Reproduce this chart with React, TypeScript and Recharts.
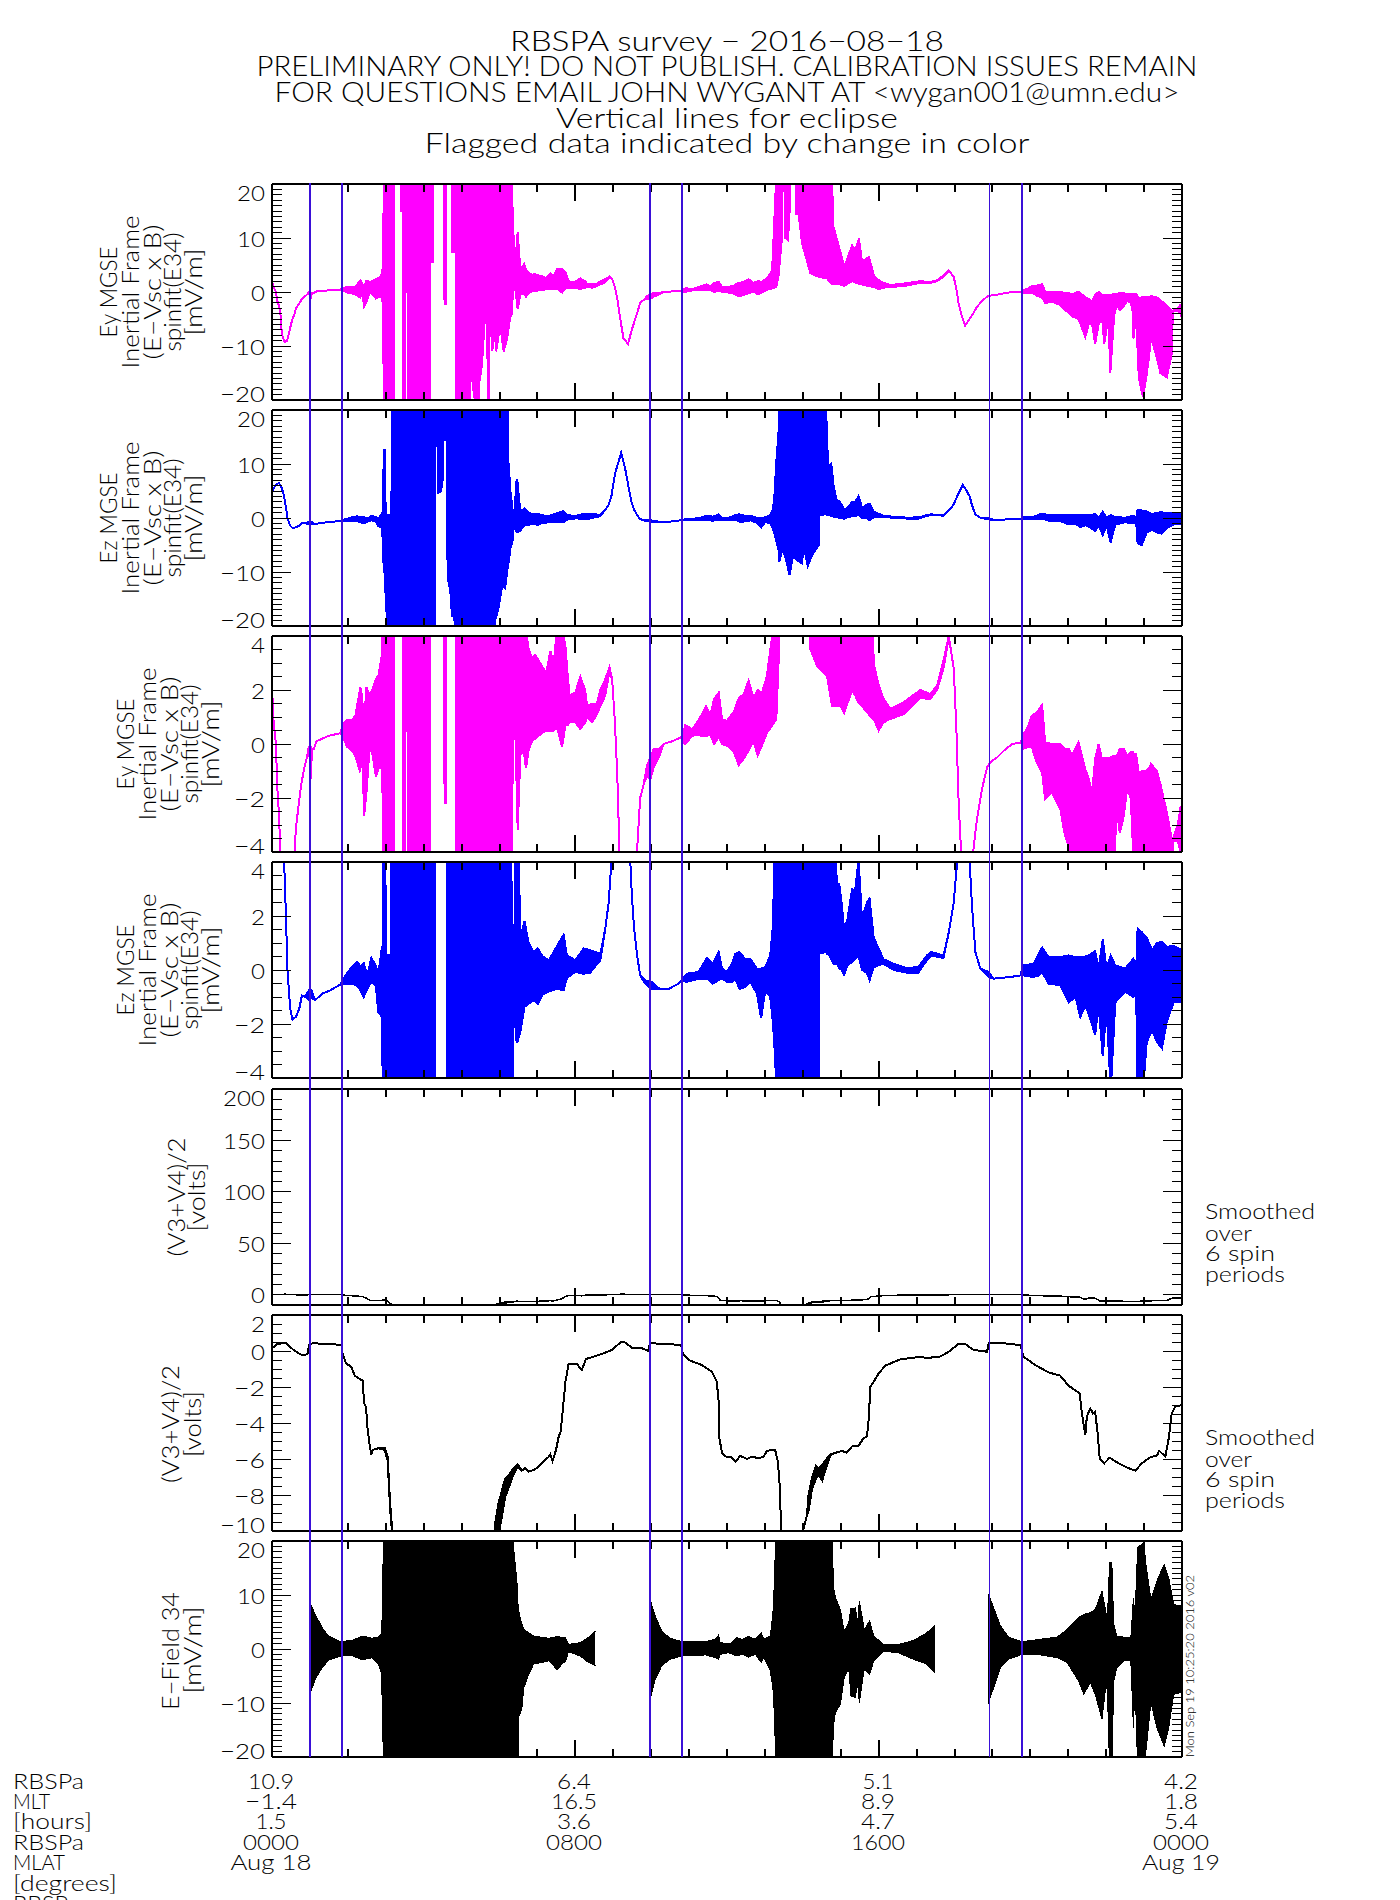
import React from "react";
import {
  Area,
  ComposedChart,
  ReferenceLine,
  XAxis,
  YAxis,
} from "recharts";

type Row = [number, number | null, number | null];

// [hour, lowest, highest] (the +-20 and +-4 views show the same data)
const eyBand: Row[] = [
  [0, 2.1, 2.1], [0.04, 0.9, 0.9], [0.11, -0.1, -0.1], [0.13, -1.4, -1.4], [0.18, -2.5, -2.5], [0.22, -3.9, -3.9],
  [0.26, -7.7, -7.7], [0.33, -9.3, -9.3], [0.4, -9, -9], [0.53, -5.2, -5.2], [0.6, -3.9, -3.9], [0.63, -3.1, -3.1],
  [0.7, -2.3, -2.3], [0.77, -1.5, -1.5], [0.85, -0.9, -0.9], [0.92, -0.5, -0.5], [0.97, -0.1, -0.1], [1.03, -1.3, -0.1],
  [1.05, -0.2, -0.2], [1.1, -0.2, -0.2], [1.17, 0.1, 0.1], [1.49, 0.3, 0.3], [1.8, 0.4, 0.4], [1.86, 0.3, 0.7],
  [1.98, -0.1, 0.9], [2.11, -0.25, 0.9], [2.2, -0.45, 1.05], [2.33, -1.05, 2.1], [2.37, 0.3, 1.8], [2.43, -2.65, 0.8],
  [2.49, -1.85, 2.1], [2.57, -0.2, 1.85], [2.64, -0.3, 2], [2.74, -1.2, 2.4], [2.81, -0.9, 2.55], [2.9, -0.9, 3.3],
  [2.93, -2.8, 5.2], [2.95, -22, 22], [3.21, -22, 22], [3.22, 22, 22], [3.39, 22, 22], [3.4, 15, 22], [3.45, 15, 22],
  [3.46, -22, 22], [3.51, -22, 22], [3.52, 14, 22], [3.57, 14, 22], [3.58, -22, 22], [4.09, -22, 22], [4.1, 3, 22],
  [4.12, 3, 22], [4.13, -22, 22], [4.17, -22, 22], [4.18, 5.5, 22], [4.24, 5.5, 22], [4.25, 22, 22], [4.54, 22, 22],
  [4.55, -2.2, 22], [4.59, -2.2, 22], [4.6, 22, 22], [4.74, 22, 22], [4.75, 7.4, 22], [4.79, 7.4, 22], [4.8, 22, 22],
  [4.84, 22, 22], [4.85, -22, 22], [5.09, -22, 22], [5.12, -14.5, 22], [5.15, -22, 22], [5.2, -22, 22], [5.24, -12.6, 22],
  [5.3, -17.6, 22], [5.39, -22, 22], [5.45, -22, 22], [5.47, -16.7, 22], [5.54, -13.3, 22], [5.61, -5.2, 22], [5.67, -6, 22],
  [5.7, -20, 22], [5.72, -20, 22], [5.75, 1, 22], [5.8, 1, 22], [5.81, -11, 22], [5.87, -6.5, 22], [5.91, -11, 22],
  [6.02, -6.2, 22], [6.11, -11, 22], [6.2, -8.6, 22], [6.28, -4.9, 22], [6.32, -4.1, 22], [6.36, 0.4, 11.4], [6.42, 0.3, 5.9],
  [6.48, -3.2, 11.1], [6.55, -0.4, 4], [6.59, -0.3, 4.5], [6.65, -0.4, 5.2], [6.7, -0.9, 4.2], [6.77, -0.2, 3.5], [6.86, 0.1, 3.2],
  [6.94, 0.2, 3.3], [7.03, 0.3, 3.1], [7.12, 0.4, 2.9], [7.23, 0.5, 2.6], [7.34, 0.5, 3.45], [7.43, 0.5, 3], [7.52, 0.6, 4.3],
  [7.65, -0.1, 4.3], [7.74, 0.7, 3.6], [7.8, 0.7, 2.5], [7.85, 0.8, 1.8], [8, 0.8, 1.9], [8.13, 0.55, 2.5], [8.26, 0.8, 2],
  [8.31, 1, 1.4], [8.44, 0.8, 1.5], [8.57, 1.1, 1.5], [8.66, 1.4, 2], [8.79, 1.8, 2.4], [8.9, 2.7, 2.85], [8.97, 2.4, 2.4],
  [9.04, 0.9, 0.9], [9.08, -0.3, -0.3], [9.12, -1.7, -1.7], [9.16, -3.9, -3.9], [9.27, -8.6, -8.6], [9.39, -9.6, -9.6],
  [9.49, -7, -7], [9.63, -3.9, -3.9], [9.71, -2, -2], [9.8, -1.5, -1.5], [9.89, -1.2, -0.8], [9.98, -1.3, -0.5], [10.06, -0.9, -0.2],
  [10.2, -0.5, -0.2], [10.33, 0, 0], [10.55, 0.1, 0.1], [10.79, 0.25, 0.25], [10.85, 0.05, 0.45], [10.9, 0, 0.7], [11.08, 0.3, 0.55],
  [11.21, 0.35, 0.8], [11.34, 0.3, 1.1], [11.45, 0.3, 1.4], [11.56, 0.35, 1.05], [11.66, 0, 1.67], [11.78, 0.25, 1.9], [11.87, 0, 0.9],
  [12, -0.06, 0.86], [12.18, -0.3, 1.2], [12.31, -0.78, 1.7], [12.44, -0.55, 1.85], [12.57, -0.25, 2.35], [12.7, 0.1, 1.7],
  [12.81, -0.43, 2], [12.92, -0.06, 1.9], [13.05, 0.4, 2.5], [13.19, 0.68, 4], [13.29, 0.9, 20], [13.3, 0.9, 22], [13.36, 3, 22],
  [13.41, 7, 22], [13.45, 10, 22], [13.47, 22, 22], [13.53, 22, 22], [13.54, 10, 22], [13.6, 9.6, 22], [13.64, 12.5, 22],
  [13.68, 22, 22], [13.81, 22, 22], [13.82, 14.5, 22], [13.89, 14.5, 22], [13.92, 12.6, 22], [13.98, 9, 22], [14.2, 3.5, 22],
  [14.37, 2.9, 22], [14.51, 2.7, 22], [14.64, 2.5, 22], [14.77, 1.4, 22], [14.8, 1.4, 12.3], [14.99, 1.4, 7.4], [15.09, 1.15, 4.6],
  [15.3, 2, 8.6], [15.38, 1.8, 7.7], [15.48, 1.5, 9.9], [15.56, 1.4, 5.6], [15.74, 1.1, 6.5], [15.84, 0.93, 4], [15.88, 0.9, 2.9],
  [16, 0.5, 2.2], [16.13, 0.8, 1.67], [16.31, 0.93, 1.3], [16.66, 1.1, 1.55], [17.1, 1.7, 2], [17.36, 1.67, 1.85], [17.54, 2, 2.16],
  [17.71, 2.8, 3.1], [17.85, 3.95, 4], [17.98, 2.8, 2.8], [18.05, 0.55, 0.55], [18.11, -2.16, -2.16], [18.17, -3.9, -3.9],
  [18.22, -5, -5], [18.28, -6.2, -6.2], [18.37, -5.3, -5.3], [18.5, -3.9, -3.9], [18.59, -2.8, -2.8], [18.72, -1.7, -1.7],
  [18.86, -0.86, -0.86], [18.94, -0.68, -0.68], [19.12, -0.5, -0.5], [19.3, -0.25, -0.25], [19.52, 0, 0], [19.75, 0.06, 0.06],
  [19.81, -0.18, 0.37], [19.91, -0.12, 0.55], [20.04, -0.12, 1.05], [20.17, -0.68, 1.17], [20.31, -1.05, 1.45], [20.39, -2.04, 0.06],
  [20.57, -1.8, 0], [20.79, -2.4, 0], [20.9, -3.3, -0.18], [21.01, -3.8, -0.18], [21.1, -4.5, -0.43], [21.27, -5, 0.06],
  [21.45, -8.3, -0.93], [21.54, -6, -1.3], [21.63, -6, -1.8], [21.71, -9.6, -0.55], [21.8, -6, 0], [21.89, -4.6, -0.55],
  [21.95, -9.6, -0.5], [22.06, -4.6, -0.5], [22.11, -15, -0.5], [22.21, -4.4, -0.43], [22.28, -2.4, -0.43], [22.36, -3.3, -0.18],
  [22.46, -2.7, -0.18], [22.55, -1.7, -0.43], [22.65, -2, -0.3], [22.71, -4, -0.3], [22.72, -8.6, -0.37], [22.79, -4.2, -0.37],
  [22.86, -15.8, -1.05], [22.97, -19.5, -1], [23.06, -15.8, -1], [23.13, -12, -0.9], [23.18, -8.3, -0.74], [23.34, -12.3, -1],
  [23.43, -15, -1.48], [23.6, -15.8, -2.53], [23.73, -11.4, -3.5], [23.76, -3.6, -3.5], [23.89, -3.6, -3], [23.96, -4, -2.35], [24, -5, -2.35],
];

// same idea for Ez
const ezBand: Row[] = [
  [0, 4.9, 4.9], [0.09, 6.1, 6.1], [0.18, 6.5, 6.5], [0.26, 5.5, 5.5], [0.32, 4, 4], [0.37, 1.9, 1.9], [0.41, -0.07, -0.07],
  [0.48, -1.43, -1.43], [0.54, -1.83, -1.83], [0.63, -1.74, -1.74], [0.72, -1.43, -1.43], [0.79, -0.94, -0.94], [0.88, -1, -1],
  [0.97, -1.1, -0.75], [1.04, -1.05, -0.75], [1.14, -1.12, -1.12], [1.32, -0.88, -0.88], [1.54, -0.75, -0.75], [1.8, -0.54, -0.54],
  [1.89, -0.5, -0.3], [2.07, -0.5, 0.05], [2.24, -0.57, 0.3], [2.33, -0.75, 0.15], [2.42, -1, 0.24], [2.51, -0.7, -0.2],
  [2.62, -0.44, 0.44], [2.74, -0.57, 0.17], [2.8, -1.55, -0.2], [2.9, -1.74, 0.85], [2.92, -4.2, 0.85], [2.95, -10, 12.6],
  [2.97, -10, 12.6], [3, -15, 0.54], [3.06, -22, 0.54], [3.15, -22, 0.6], [3.16, -22, 22], [3.32, -22, 22], [3.33, 12.6, 22],
  [3.36, 12.6, 22], [3.37, -22, 22], [3.83, -22, 22], [3.84, -22, 12], [3.86, -22, 12], [3.87, -22, 22], [4.14, -22, 22],
  [4.15, -14.6, 22], [4.2, -14.6, 22], [4.21, -22, 22], [4.3, -22, 22], [4.31, 22, 22], [4.36, 22, 22], [4.37, 4.6, 22],
  [4.46, 4.9, 22], [4.5, 7, 22], [4.51, 22, 22], [4.56, 22, 22], [4.57, 14.4, 22], [4.62, 14.4, 22], [4.63, -10.9, 22],
  [4.7, -13.3, 22], [4.75, -18.3, 22], [4.79, -15, 22], [4.83, -22, 22], [5.78, -22, 22], [5.79, -22, 0.7], [5.82, -22, 0.7],
  [5.83, -22, 22], [5.85, -22, 22], [5.89, -18.9, 22], [5.98, -16.4, 22], [6.07, -12.7, 22], [6.15, -13, 22], [6.21, -9.3, 22],
  [6.22, -9.3, 12], [6.29, -5.6, 4.9], [6.35, -4, 1.3], [6.36, -1.43, 1.3], [6.39, -1.5, 0.7], [6.45, -2.67, 7], [6.47, -2.67, 7],
  [6.55, -2.3, 1.2], [6.66, -1.37, 1.8], [6.77, -1.25, 1], [6.9, -1.12, 0.67], [7.01, -1.25, 0.8], [7.14, -0.9, 0.5], [7.3, -0.8, 0.36],
  [7.52, -0.7, 0.9], [7.69, -0.75, 1.3], [7.78, -0.3, 0.54], [8, -0.07, 0.36], [8.22, -0.14, 0.8], [8.39, -0.1, 0.73], [8.66, 0.36, 0.6],
  [8.79, 1.53, 1.53], [8.88, 2.5, 2.5], [8.95, 4, 4], [9.05, 8.3, 8.3], [9.21, 12.1, 12.1], [9.32, 8.9, 8.9], [9.45, 4, 4],
  [9.49, 2.77, 2.77], [9.55, 1.53, 1.53], [9.63, 0.54, 0.54], [9.71, -0.2, -0.2], [9.84, -0.5, -0.38], [10.01, -0.7, -0.44],
  [10.24, -0.72, -0.72], [10.46, -0.7, -0.7], [10.68, -0.54, -0.54], [10.81, -0.38, -0.38], [10.94, -0.44, -0.14], [11.25, -0.32, -0.07],
  [11.47, -0.32, 0.44], [11.62, -0.5, 0.24], [11.78, -0.38, 0.67], [11.87, -0.32, 0.05], [12, -0.44, -0.07], [12.13, -0.44, 0.24],
  [12.22, -0.32, 0.6], [12.33, -0.7, 0.67], [12.48, -0.63, 0.4], [12.62, -0.44, 0.4], [12.79, -0.88, 0.05], [12.9, -1.78, 0.05],
  [13.01, -0.75, 0.11], [13.14, -1, 0.54], [13.21, -1.93, 1.65], [13.25, -2.8, 4], [13.3, -4.2, 10.4], [13.36, -5.9, 16], [13.38, -8.1, 22],
  [13.45, -5.9, 22], [13.54, -7.2, 22], [13.65, -10.6, 22], [13.74, -7, 22], [13.85, -7.8, 22], [13.97, -8.4, 22], [14.03, -5.5, 22],
  [14.13, -8.9, 22], [14.24, -6.9, 22], [14.42, -5, 22], [14.43, 0.6, 22], [14.61, 0.67, 22], [14.64, 0.6, 13.8], [14.68, 0.6, 9.5],
  [14.75, 0.4, 10.1], [14.81, 0.23, 6.1], [14.87, 0.23, 4], [14.9, 0.23, 3.2], [14.96, 0.05, 3.2], [15.03, 0, 2.4], [15.09, -0.17, 1.47],
  [15.18, 0.17, 1.9], [15.3, 0.3, 3], [15.38, 0.4, 2.95], [15.47, 0.54, 4.1], [15.56, 0, 1.9], [15.69, -0.1, 2.5], [15.76, -0.38, 2.64],
  [15.87, 0.1, 1.2], [16.04, 0.2, 0.67], [16.13, 0.23, 0.4], [16.4, 0, 0.23], [16.75, -0.1, 0.07], [17.05, -0.1, 0.11], [17.27, 0.36, 0.54],
  [17.38, 0.54, 0.67], [17.71, 0.44, 0.54], [17.85, 1.4, 1.4], [17.98, 2.5, 2.5], [18.07, 4, 4], [18.22, 6.1, 6.1], [18.33, 4.9, 4.9],
  [18.4, 4, 4], [18.46, 2.4, 2.4], [18.55, 0.67, 0.67], [18.68, 0.05, 0.05], [18.9, -0.26, -0.07], [19.03, -0.32, -0.32], [19.47, -0.26, -0.26],
  [19.74, -0.2, -0.2], [19.81, -0.2, 0.17], [20.09, -0.26, 0.23], [20.22, -0.2, 0.6], [20.31, -0.07, 0.83], [20.48, -0.5, 0.48],
  [20.79, -0.57, 0.48], [21.01, -1.2, 0.54], [21.19, -1, 0.48], [21.32, -1.74, 0.48], [21.45, -1.3, 0.5], [21.58, -1.8, 0.57],
  [21.71, -2.4, 0.7], [21.8, -1.3, 0.05], [21.91, -3.2, 1.14], [22.01, -1.37, 0.05], [22.12, -4.5, 0.54], [22.24, -1.2, 0.17],
  [22.5, -0.8, 0.05], [22.72, -1, 0.42], [22.79, -0.6, -0.07], [22.83, -4.7, 1.55], [22.94, -5, 1.4], [23.07, -2.67, 1.2],
  [23.21, -2.23, 0.73], [23.34, -2.67, 1], [23.47, -2.9, 1.04], [23.6, -1.9, 0.85], [23.78, -1.2, 0.9], [24, -1.2, 0.73],
];

// spacecraft potential, the line gets thick where it is noisy
const vscBand: Row[] = [
  [0, 0.15, 0.15], [0.13, 0.37, 0.37], [0.35, 0.46, 0.46], [0.57, 0.06, 0.06], [0.75, -0.19, -0.19], [0.88, -0.22, -0.22],
  [0.94, -0.13, -0.13], [0.98, 0.33, 0.33], [1.07, 0.43, 0.43], [1.67, 0.37, 0.37], [1.83, 0.3, 0.3], [1.86, -0.13, -0.13],
  [1.95, -0.69, -0.69], [2.09, -0.87, -0.87], [2.18, -1.37, -1.37], [2.39, -1.65, -1.65], [2.43, -2.9, -2.9], [2.48, -3.1, -3.1],
  [2.52, -4.3, -4.3], [2.57, -5.13, -5.13], [2.62, -5.78, -5.78], [2.65, -5.5, -5.5], [2.81, -5.4, -5.4], [2.97, -5.5, -5.38],
  [3.05, -6.1, -5.85], [3.08, -7.4, -7.1], [3.12, -8.9, -8.6], [3.17, -10.2, -9.9], [3.18, -12, -12], [5.87, -12, -12],
  [5.89, -10.2, -9.5], [5.98, -10.2, -8.4], [6.07, -9.1, -7.7], [6.15, -8.1, -7.07], [6.28, -7.4, -6.8], [6.37, -6.85, -6.5],
  [6.48, -6.43, -6.3], [6.59, -6.65, -6.65], [6.68, -6.5, -6.5], [6.77, -6.7, -6.7], [6.94, -6.57, -6.57], [7.12, -6.24, -6.24],
  [7.3, -5.87, -5.87], [7.34, -5.74, -5.74], [7.4, -6.1, -6.1], [7.49, -5.5, -5.5], [7.56, -4.76, -4.76], [7.61, -4.48, -4.48],
  [7.65, -3.74, -3.74], [7.69, -2.8, -2.8], [7.74, -1.7, -1.7], [7.82, -0.74, -0.74], [8.04, -0.72, -0.72], [8.17, -1.06, -1.06],
  [8.28, -0.44, -0.44], [8.44, -0.35, -0.35], [8.66, -0.19, -0.19], [8.97, 0.06, 0.06], [9.19, 0.48, 0.48], [9.3, 0.48, 0.48],
  [9.49, 0.19, 0.19], [9.76, 0.15, 0.15], [9.92, 0, 0], [9.97, 0.43, 0.43], [10.42, 0.39, 0.39], [10.79, 0.33, 0.33],
  [10.84, -0.19, -0.19], [10.99, -0.5, -0.5], [11.34, -0.78, -0.78], [11.6, -1.15, -1.15], [11.73, -1.7, -1.7], [11.78, -2.8, -2.8],
  [11.8, -4.85, -4.85], [11.87, -5.69, -5.69], [12, -5.9, -5.9], [12.11, -5.87, -5.87], [12.22, -6.15, -6.15], [12.35, -5.83, -5.83],
  [12.53, -6, -6], [12.66, -5.87, -5.87], [12.84, -5.96, -5.96], [12.97, -5.87, -5.87], [13.05, -5.54, -5.54], [13.27, -5.5, -5.5],
  [13.34, -6.15, -6.15], [13.39, -7.44, -7.44], [13.43, -10.04, -10.04], [13.44, -12, -12], [13.97, -12, -12], [14, -10.04, -10.04],
  [14.11, -9.1, -9.1], [14.15, -8.9, -8], [14.24, -7.7, -7.07], [14.35, -7.07, -6.37], [14.42, -6.9, -6.55], [14.51, -7.2, -6.33],
  [14.64, -6.33, -5.96], [14.74, -5.74, -5.74], [14.9, -5.63, -5.63], [15.03, -5.55, -5.55], [15.15, -5.65, -5.65], [15.3, -5.3, -5.3],
  [15.47, -5.26, -5.26], [15.6, -4.85, -4.85], [15.69, -4.76, -4.76], [15.74, -3.74, -3.74], [15.78, -1.98, -1.98], [15.87, -1.7, -1.7],
  [16, -1.24, -1.24], [16.18, -0.81, -0.81], [16.57, -0.46, -0.46], [17.01, -0.35, -0.35], [17.36, -0.37, -0.37], [17.63, -0.3, -0.3],
  [17.85, -0.04, -0.04], [18.11, 0.41, 0.41], [18.28, 0.39, 0.39], [18.5, 0.06, 0.06], [18.86, -0.04, -0.04], [18.9, 0.43, 0.43],
  [19.3, 0.43, 0.43], [19.74, 0.33, 0.33], [19.82, -0.31, -0.31], [20.13, -0.78, -0.78], [20.48, -1.19, -1.19], [20.79, -1.37, -1.37],
  [21.01, -1.93, -1.93], [21.3, -2.35, -2.35], [21.36, -3.46, -3.46], [21.45, -4.67, -4.67], [21.49, -3.65, -3.65], [21.58, -3.19, -3.19],
  [21.65, -3.46, -3.46], [21.71, -3.37, -3.37], [21.77, -4.48, -4.48], [21.83, -5.96, -5.96], [21.95, -6.24, -6.24], [22.09, -5.93, -5.93],
  [22.33, -6.24, -6.24], [22.55, -6.48, -6.48], [22.77, -6.65, -6.65], [22.94, -6.24, -6.24], [23.16, -5.91, -5.91], [23.34, -5.8, -5.8],
  [23.4, -5.54, -5.54], [23.56, -5.87, -5.87], [23.65, -4.85, -4.85], [23.73, -3.46, -3.46], [23.82, -3.09, -3.09], [24, -3, -3],
];

// E-field 34 envelope, nulls are where there is no data
const e34Band: Row[] = [
  [1.03, -7.8, 8.1], [1.14, -5.6, 6.4], [1.32, -3.5, 4], [1.49, -2.1, 2.4], [1.8, -1.3, 1.36], [2.11, -1.25, 1.6], [2.39, -2, 2.4],
  [2.64, -1.6, 2], [2.8, -2.7, 2.2], [2.88, -4.4, 2.7], [2.91, -10.2, 6.4], [2.94, -22, 22], [6.33, -22, 22], [6.37, -22, 18.8],
  [6.46, -22, 12.6], [6.49, -22, 8], [6.5, -12.7, 7.5], [6.55, -11.8, 5.5], [6.59, -11, 4.6], [6.64, -7.2, 3.6], [6.77, -4.7, 3],
  [6.9, -2.8, 2.4], [7.3, -2.2, 2], [7.52, -3.8, 2.3], [7.69, -2.5, 2.1], [7.74, -2.3, 2.1], [7.82, -0.5, 0.86], [8.13, -1.3, 1.17],
  [8.35, -2.5, 2.2], [8.53, -3.1, 3.3], [8.54, null, null], [9.96, null, null], [9.97, -9.3, 9.2], [10.11, -5.6, 6.1], [10.28, -3.1, 3.3],
  [10.5, -1.9, 2], [10.81, -1.3, 1.36], [11.43, -1.1, 1.36], [11.69, -1.6, 1.8], [11.78, -1.9, 2.6], [11.82, -1, 1.2], [12.03, -0.7, 0.9],
  [12.13, -0.9, 1.2], [12.26, -1.3, 2.1], [12.4, -1, 1.8], [12.57, -1.5, 2.3], [12.75, -1, 1.8], [12.9, -2.5, 3], [12.97, -1.6, 1.8],
  [13.14, -4, 2.4], [13.21, -7.2, 6.4], [13.26, -13.3, 13.8], [13.28, -22, 22], [14.77, -22, 22], [14.81, -14, 11.4], [14.86, -11.8, 9.5],
  [14.99, -10.2, 7.3], [15.09, -5.3, 3.3], [15.21, -3.5, 4.9], [15.27, -8.7, 7.5], [15.38, -9, 7.6], [15.45, -6.5, 5], [15.49, -9.9, 8.9],
  [15.62, -3.7, 3.6], [15.76, -4.7, 5.2], [15.87, -2.2, 2.4], [16.13, -0.5, 0.86], [16.48, -0.6, 0.74], [16.92, -1.9, 1.6], [17.27, -2.8, 3],
  [17.49, -4.4, 4.4], [17.5, null, null], [18.88, null, null], [18.89, -10.1, 10.2], [19.03, -7.2, 7.7], [19.21, -3.5, 4.3], [19.43, -1.9, 2.2],
  [19.78, -1, 1.36], [20.26, -1.1, 1.8], [20.7, -1.6, 2.2], [20.97, -2.5, 3.6], [21.27, -5.9, 5.8], [21.41, -8.4, 6.4], [21.58, -6.2, 6.7],
  [21.71, -8.4, 7.3], [21.89, -13, 10.7], [21.98, -7.5, 7.3], [22.03, -6.9, 5.2], [22.09, -22, 16], [22.15, -22, 16], [22.2, -5.9, 4.6],
  [22.28, -3.5, 2.4], [22.46, -2.2, 2.2], [22.65, -2.2, 2.1], [22.72, -14.6, 9.5], [22.76, -5.9, 5.8], [22.83, -22, 18.8], [22.99, -22, 19.7],
  [23.06, -18.3, 15], [23.18, -9.9, 9.2], [23.34, -14.6, 12.6], [23.53, -18, 15.7], [23.65, -14.6, 13.2], [23.78, -8.4, 8.3], [24, -8, 7.7],
];

const hourTicks = Array.from({ length: 25 }, (_, i) => i);
const eclipseHours = [1, 1.85, 9.97, 10.82, 18.92, 19.79];
const eclipseWidths = [2, 2, 2, 2, 1, 2];

const range = (from: number, to: number, step: number) =>
  Array.from({ length: Math.round((to - from) / step) + 1 }, (_, i) => from + i * step);

const titleLines = [
  { text: "RBSPA survey − 2016−08−18", width: 434 },
  { text: "PRELIMINARY ONLY! DO NOT PUBLISH. CALIBRATION ISSUES REMAIN", width: 941 },
  { text: "FOR QUESTIONS EMAIL JOHN WYGANT AT <wygan001@umn.edu>", width: 905 },
  { text: "Vertical lines for eclipse", width: 342 },
  { text: "Flagged data indicated by change in color", width: 605 },
];

const rowLabels = ["RBSPa", "MLT", "[hours]", "RBSPa", "MLAT", "[degrees]", "RBSP"];
const rowLabelWidths = [71, 37, 79, 71, 52, 104, 55];
const columns = [
  { x: 271, cells: ["10.9", "−1.4", "1.5", "0000", "Aug 18"], widths: [46, 52, 31, 56, 81] },
  { x: 574, cells: ["6.4", "16.5", "3.6", "0800", ""], widths: [34, 46, 34, 56, 0] },
  { x: 878, cells: ["5.1", "8.9", "4.7", "1600", ""], widths: [31, 34, 34, 54, 0] },
  { x: 1181, cells: ["4.2", "1.8", "5.4", "0000", "Aug 19"], widths: [34, 34, 34, 56, 78] },
];
const smoothedNote = ["Smoothed", "over", "6 spin", "periods"];
const smoothedWidths = [110, 47, 70, 80];

const FONT = "Lato, 'Liberation Sans', sans-serif";
const LEFT = 272;
const RIGHT = 1182;
const HEIGHT = 216;
const PAD = 20;

const toRows = (band: Row[]) =>
  band.map(([t, lo, hi]) => ({ t, band: hi == null ? null : [lo, hi] }));

type PanelProps = {
  top: number;
  band: Row[];
  color: string;
  strokeWidth: number;
  domain: [number, number];
  major: number[];
  minor: number[];
  labels: number[];
};

function Panel({ top, band, color, strokeWidth, domain, major, minor, labels }: PanelProps) {
  const yTick = (side: "left" | "right") => (p: any) => {
    const v = p.payload.value;
    const len = major.includes(v) ? 19 : 10;
    const x2 = side === "left" ? p.x + len : p.x - len;
    const shift = v === domain[1] ? 8 : v === domain[0] ? -7 : 0;
    const label = v < 0 ? `−${-v}` : `${v}`;
    return (
      <g>
        <line x1={p.x} x2={x2} y1={p.y} y2={p.y} stroke="#000" strokeWidth={1} />
        {side === "left" && labels.includes(v) ? (
          <Label x={p.x - 7} y={p.y + shift} anchor="end" w={`${Math.abs(v)}`.length * 14 + (v < 0 ? 17 : 0)}>
            {label}
          </Label>
        ) : null}
      </g>
    );
  };
  const xTick = (side: "top" | "bottom") => (p: any) => {
    const v = p.payload.value;
    const len = v === 8 || v === 16 ? 17 : 8;
    return (
      <line
        x1={p.x}
        x2={p.x}
        y1={p.y}
        y2={side === "top" ? p.y + len : p.y - len}
        stroke="#000"
        strokeWidth={2}
      />
    );
  };
  const allTicks = [...minor, ...major.filter((m) => !minor.includes(m))];
  const axisLine = { stroke: "#000", strokeWidth: 2 };
  // axes need a size above 0 or they are not drawn, so the margins give that pixel back
  return (
    <div style={{ position: "absolute", left: 0, top: top - PAD }}>
      <ComposedChart
        width={1400}
        height={HEIGHT + PAD * 2}
        data={toRows(band)}
        margin={{ top: PAD - 1, bottom: PAD - 1, left: LEFT - 1, right: 1400 - RIGHT - 1 }}
      >
        <XAxis xAxisId="b" dataKey="t" type="number" domain={[0, 24]} allowDataOverflow ticks={hourTicks} interval={0} height={1} tickSize={0} tickMargin={0} tickLine={false} axisLine={axisLine} tick={xTick("bottom")} />
        <XAxis xAxisId="t" orientation="top" dataKey="t" type="number" domain={[0, 24]} allowDataOverflow ticks={hourTicks} interval={0} height={1} tickSize={0} tickMargin={0} tickLine={false} axisLine={axisLine} tick={xTick("top")} />
        <YAxis yAxisId="l" type="number" domain={domain} allowDataOverflow ticks={allTicks} interval={0} width={1} tickSize={0} tickMargin={0} tickLine={false} axisLine={axisLine} tick={yTick("left")} />
        <YAxis yAxisId="r" orientation="right" type="number" domain={domain} allowDataOverflow ticks={allTicks} interval={0} width={1} tickSize={0} tickMargin={0} tickLine={false} axisLine={axisLine} tick={yTick("right")} />
        <Area
          xAxisId="b"
          yAxisId="l"
          dataKey="band"
          type="linear"
          stroke={color}
          strokeWidth={strokeWidth}
          fill={color}
          fillOpacity={1}
          dot={false}
          activeDot={false}
          isAnimationActive={false}
        />
      </ComposedChart>
    </div>
  );
}

function Label({ x, y, w, size = 21, anchor = "middle", rotate, children }: any) {
  return (
    <text
      x={x}
      y={y}
      textAnchor={anchor}
      dominantBaseline="central"
      fontFamily={FONT}
      fontWeight={300}
      fontSize={size}
      fill="#000"
      textLength={w}
      lengthAdjust="spacingAndGlyphs"
      transform={rotate ? `rotate(-90 ${x} ${y})` : undefined}
    >
      {children}
    </text>
  );
}

const YTitle = ({ lines }: { lines: { t: string; x: number; y: number; w: number }[] }) => (
  <>
    {lines.map((l) => (
      <Label key={l.t + l.x} x={l.x} y={l.y} w={l.w} size={23} rotate>
        {l.t}
      </Label>
    ))}
  </>
);

const fieldTitle = (name: string, dx: number, cy: number) => [
  { t: `${name} MGSE`, x: 108 + dx, y: cy, w: 91 },
  { t: "Inertial Frame", x: 130 + dx, y: cy, w: 153 },
  { t: "(E−Vsc x B)", x: 152 + dx, y: cy, w: 135 },
  { t: "spinfit(E34)", x: 172 + dx, y: cy, w: 119 },
  { t: "[mV/m]", x: 193 + dx, y: cy, w: 87 },
];

export default function App() {
  const wideMajor = [-20, -10, 0, 10, 20];
  const wideMinor = range(-20, 20, 1);
  const narrowMajor = [-4, -2, 0, 2, 4];
  const narrowMinor = range(-4, 4, 0.5);
  return (
    <div
      style={{
        position: "absolute",
        left: 0,
        top: 0,
        width: 1400,
        height: 1900,
        overflow: "hidden",
        background: "#fff",
        shapeRendering: "crispEdges",
      }}
    >
      <Panel top={184} band={eyBand} color="#ff00ff" strokeWidth={2} domain={[-20, 20]} major={wideMajor} minor={wideMinor} labels={wideMajor} />
      <Panel top={410} band={ezBand} color="#0000ff" strokeWidth={2} domain={[-20, 20]} major={wideMajor} minor={wideMinor} labels={wideMajor} />
      <Panel top={636} band={eyBand} color="#ff00ff" strokeWidth={2} domain={[-4, 4]} major={narrowMajor} minor={narrowMinor} labels={narrowMajor} />
      <Panel top={862} band={ezBand} color="#0000ff" strokeWidth={2} domain={[-4, 4]} major={narrowMajor} minor={narrowMinor} labels={narrowMajor} />
      <Panel top={1089} band={vscBand} color="#000" strokeWidth={1.5} domain={[-10, 200]} major={[0, 50, 100, 150, 200]} minor={range(-10, 200, 10)} labels={[0, 50, 100, 150, 200]} />
      <Panel top={1315} band={vscBand} color="#000" strokeWidth={2} domain={[-10, 2]} major={[-10, -8, -6, -4, -2, 0, 2]} minor={range(-10, 2, 0.5)} labels={[-10, -8, -6, -4, -2, 0, 2]} />
      <Panel top={1541} band={e34Band} color="#000" strokeWidth={1} domain={[-20, 20]} major={wideMajor} minor={wideMinor} labels={wideMajor} />

      <div style={{ position: "absolute", left: 0, top: 183, pointerEvents: "none" }}>
        <ComposedChart
          width={1400}
          height={1574}
          data={[{ t: 0 }]}
          margin={{ top: 0, bottom: 0, left: LEFT, right: 1400 - RIGHT }}
        >
          <XAxis dataKey="t" type="number" domain={[0, 24]} allowDataOverflow hide />
          <YAxis type="number" domain={[0, 1]} allowDataOverflow hide width={0} />
          {eclipseHours.map((h, i) => (
            <ReferenceLine key={h} x={h} stroke="#3a10d8" strokeWidth={eclipseWidths[i]} />
          ))}
        </ComposedChart>
      </div>

      <svg width={1400} height={1900} style={{ position: "absolute", left: 0, top: 0, pointerEvents: "none" }}>
        {titleLines.map((l, i) => (
          <Label key={l.text} x={727} y={40 + i * 25.7} w={l.width} size={27}>
            {l.text}
          </Label>
        ))}
        <YTitle lines={fieldTitle("Ey", 0, 292)} />
        <YTitle lines={fieldTitle("Ez", 0, 518)} />
        <YTitle lines={fieldTitle("Ey", 17, 744)} />
        <YTitle lines={fieldTitle("Ez", 17, 970)} />
        <YTitle lines={[{ t: "(V3+V4)/2", x: 176, y: 1197, w: 119 }, { t: "[volts]", x: 196, y: 1197, w: 69 }]} />
        <YTitle lines={[{ t: "(V3+V4)/2", x: 170, y: 1424, w: 118 }, { t: "[volts]", x: 192, y: 1424, w: 66 }]} />
        <YTitle lines={[{ t: "E−Field 34", x: 170, y: 1651, w: 118 }, { t: "[mV/m]", x: 192, y: 1650, w: 87 }]} />
        {smoothedNote.map((s, i) => (
          <Label key={`a${s}`} x={1205} y={[1210, 1232, 1252, 1273][i]} w={smoothedWidths[i]} anchor="start">
            {s}
          </Label>
        ))}
        {smoothedNote.map((s, i) => (
          <Label key={`b${s}`} x={1205} y={[1436, 1458, 1478, 1499][i]} w={smoothedWidths[i]} anchor="start">
            {s}
          </Label>
        ))}
        {rowLabels.map((s, i) => (
          <Label key={`${s}${i}`} x={13} y={1780 + i * 20.4} w={rowLabelWidths[i]} anchor="start">
            {s}
          </Label>
        ))}
        {columns.map((c) =>
          c.cells.map((s, i) =>
            s ? (
              <Label key={`${c.x}${i}`} x={c.x} y={1780 + i * 20.4} w={c.widths[i]}>
                {s}
              </Label>
            ) : null,
          ),
        )}
        <Label x={1189} y={1666} w={182} size={11} rotate>
          Mon Sep 19 10:25:20 2016 v02
        </Label>
      </svg>
    </div>
  );
}
